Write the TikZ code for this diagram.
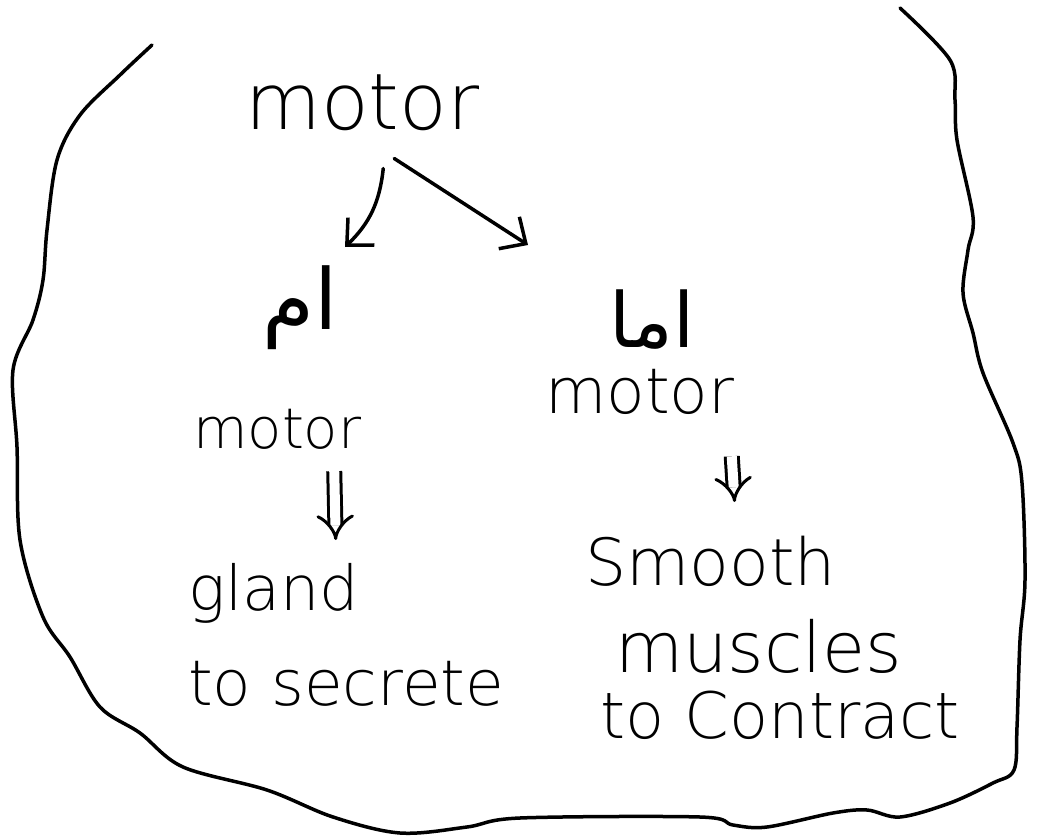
\documentclass[tikz,border=0pt]{standalone}
\usepackage{fontspec}
\setmainfont{DejaVu Sans ExtraLight}
\newfontfamily\arabicfont[Script=Arabic]{DejaVu Sans}
\TeXXeTstate=1
\usetikzlibrary{arrows.meta,calc}
\tikzset{
  pen/.style={line width=3.5pt, line cap=round, line join=round},
  txt/.style={inner sep=0pt, anchor=base west},
  arr/.style={pen, -{Straight Barb[length=20pt,width=38pt,line width=3.5pt]}},
  dbl/.style={line width=3pt, double, double distance=10pt, -{Implies[scale=1.6]}},
}
\newcommand{\fs}[1]{\fontsize{#1}{#1}\selectfont}
\begin{document}
\begin{tikzpicture}[x=1pt,y=-1pt]
\useasboundingbox (0,0) rectangle (1038,840);
% border blob
\draw[pen] plot[smooth, tension=0.55] coordinates {
 (152,45) (120,75) (80,115) (57,160) (47,230) (43,280) (33,320) (13,370) (17,447)
 (20,540) (43,617) (70,657) (100,707) (140,733) (183,767) (267,790) (333,817)
 (400,833) (467,827) (520,818) (700,817) (733,825) (767,827) (833,813) (867,810)
 (900,817) (950,803) (993,783) (1014,770) (1017,727) (1020,640) (1025,580)
 (1022,483) (1013,443) (983,373) (973,333) (963,293) (968,250) (973,217)
 (957,140) (955,100) (950,60) (900,8)};
% nodes
\node[txt] (motor) at (245,130) {\fs{78}motor};
\node[inner sep=0pt, anchor=south] (lA) at (300,350) {\fs{84}\arabicfont\beginR ام\endR};
\node[inner sep=0pt, anchor=south] (rA) at (652,350) {\fs{76}\arabicfont\beginR اما\endR};
\node[txt] (lmotor) at (193,448) {\fs{56}motor};
\node[txt] (rmotor) at (545,413) {\fs{63}motor};
\node[txt] (gland) at (188,610) {\fs{62}gland};
\node[txt] (secrete) at (188,705) {\fs{63}to secrete};
\node[txt] (smooth) at (585,585) {\fs{65}Smooth};
\node[txt] (muscles) at (615,672) {\fs{70}muscles};
\node[txt] (contract) at (600,738) {\fs{64}to Contract};
% connectors
\draw[arr] ($(motor.south)+(21,37)$) to[bend left=20] ($(lA.south)+(45,-103)$);
\draw[arr] ($(motor.south)+(32,27)$) -- ($(rA.south)+(-124,-105)$);
\draw[dbl] ($(lmotor.south)+(57,22)$) -- ($(gland.base)+(62,-70)$);
\draw[dbl] ($(rmotor.south)+(92,42)$) -- ($(smooth.base)+(24,-83)$);
\end{tikzpicture}
\end{document}
